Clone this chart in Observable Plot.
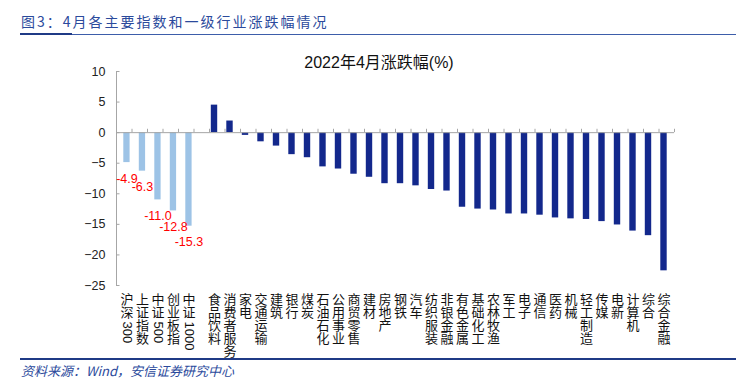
<!DOCTYPE html>
<html>
<head>
<meta charset="utf-8">
<script src="https://cdn.jsdelivr.net/npm/d3@7"></script>
<script src="https://cdn.jsdelivr.net/npm/@observablehq/plot@0.6"></script>
<style>
  html, body { margin: 0; padding: 0; background: #fff; }
  #wrap { position: relative; width: 747px; height: 391px; overflow: hidden; font-family: "Liberation Sans", "Noto Sans CJK SC", sans-serif; }
  #title { position: absolute; left: 21px; top: 11px; font-family: "Noto Sans CJK SC", sans-serif; font-size: 14px; letter-spacing: 2px; color: #2B4A9C; white-space: nowrap; }
  #lineThin { position: absolute; left: 20px; top: 34px; width: 716px; height: 1px; background: #3D5DAA; }
  #lineThick { position: absolute; left: 20px; top: 33px; width: 52px; height: 2px; background: #1F3A86; }
  #ctitle { position: absolute; left: 379px; top: 49px; transform: translateX(-50%); font-family: "Liberation Sans", "Noto Sans CJK SC", sans-serif; font-size: 16px; color: #111; white-space: nowrap; }
  #chart { position: absolute; left: 0; top: 40px; }
  #lineBottom { position: absolute; left: 20px; top: 358px; width: 716px; height: 1.5px; background: #1F3A86; }
  #source { position: absolute; left: 21px; top: 361px; font-family: "Noto Sans CJK SC", sans-serif; font-size: 13px; font-style: italic; color: #2B4A9C; white-space: nowrap; }
</style>
</head>
<body>
<div id="wrap">
  <div id="title">图3：4月各主要指数和一级行业涨跌幅情况</div>
  <div id="lineThin"></div>
  <div id="lineThick"></div>
  <div id="ctitle">2022年4月涨跌幅(%)</div>
  <div id="chart"></div>
  <div id="lineBottom"></div>
  <div id="source">资料来源：Wind，安信证券研究中心</div>
</div>
<script>
const indices = ["沪深300", "上证指数", "中证500", "创业板指", "中证1000"];
const indexValues = [-4.9, -6.3, -11.0, -12.8, -15.3];
const industries = ["食品饮料", "消费者服务", "家电", "交通运输", "建筑", "银行", "煤炭", "石油石化", "公用事业", "商贸零售",
  "建材", "房地产", "钢铁", "汽车", "纺织服装", "非银金融", "有色金属", "基础化工", "农林牧渔", "军工",
  "电子", "通信", "医药", "机械", "轻工制造", "传媒", "电新", "计算机", "综合", "综合金融"];
const industryValues = [4.5, 1.9, -0.45, -1.5, -2.2, -3.6, -4.1, -5.6, -5.95, -6.8,
  -7.3, -8.35, -8.35, -8.7, -9.3, -9.55, -12.2, -12.5, -12.65, -13.3,
  -13.3, -13.5, -13.95, -14.1, -14.2, -14.55, -15.1, -16.1, -16.85, -22.6];
const yTicks = [10, 5, 0, -5, -10, -15, -20, -25];
const gap = " ";

const domain = [...indices, gap, ...industries];
const idxRows = indices.map((name, i) => ({name, value: indexValues[i], off: 2.7}));
const indRows = industries.map((name, i) => ({name, value: industryValues[i], off: -2.7}));
const labelRows = [...idxRows, ...indRows].map(d => {
  const m = d.name.match(/[0-9]+/);
  const cjk = d.name.replace(/[0-9]+/g, "");
  return {...d, stacked: Array.from(cjk).join("\n"), digits: m ? m[0] : null, n: Array.from(cjk).length};
});

const W = 747, H = 320, ML = 116, MR = 73;
const step = (W - ML - MR) / domain.length;
const gray = "#A6A6A6";
const FS = 13;

const chart = Plot.plot({
  width: W, height: H,
  marginLeft: ML, marginRight: MR, marginTop: 31, marginBottom: 75,
  x: {domain, padding: 0, round: false, axis: null},
  y: {domain: [-25, 10], axis: null},
  style: {fontFamily: "Liberation Sans, Noto Sans CJK SC, sans-serif", background: "transparent", overflow: "visible"},
  marks: [
    Plot.barY(idxRows, {x: "name", y: "value", fill: "#9DC3E6", insetLeft: 7.3, insetRight: 1.9}),
    Plot.barY(indRows, {x: "name", y: "value", fill: "#13288C", insetLeft: 1.8, insetRight: 7.3}),
    Plot.ruleY([0], {stroke: gray, strokeWidth: 1}),
    Plot.ruleX(domain, {x: d => d, y1: 0, y2: 0.55, dx: step / 2, stroke: gray}),
    Plot.ruleX([domain[0]], {x: d => d, y1: -25, y2: 10, dx: -step / 2, stroke: gray}),
    Plot.tickY(yTicks, {y: d => d, x: () => domain[0], insetRight: step - 3.5, stroke: gray}),
    Plot.axisY({ticks: yTicks, tickSize: 0, tickPadding: 11, fontSize: 12.5, fill: "#222", label: null}),
    Plot.text(idxRows, {x: "name", y: "value", text: d => d.value.toFixed(1), dy: 16, dx: 2.7, fill: "#FF0000", fontSize: 12.5}),
    // stacked (vertical) CJK category labels
    ...[2.7, -2.7].map(off => Plot.text(labelRows.filter(d => d.off === off), {
      x: "name", y: () => -25, text: "stacked", dy: 9, dx: off,
      lineAnchor: "top", lineHeight: 1, textAnchor: "middle",
      fontSize: FS, fill: "#111", fontFamily: "Noto Sans CJK SC"})),
    // digit runs written sideways below the CJK characters
    ...[2.7, -2.7].map(off => Plot.text(labelRows.filter(d => d.digits && d.off === off), {
      x: "name", y: () => -25, text: "digits", dy: 9 + 13 * 2 + 1, dx: off,
      rotate: 90, textAnchor: "start", lineAnchor: "middle",
      fontSize: FS, fill: "#111", fontFamily: "Liberation Sans"}))
  ]
});
document.getElementById("chart").appendChild(chart);
</script>
</body>
</html>
